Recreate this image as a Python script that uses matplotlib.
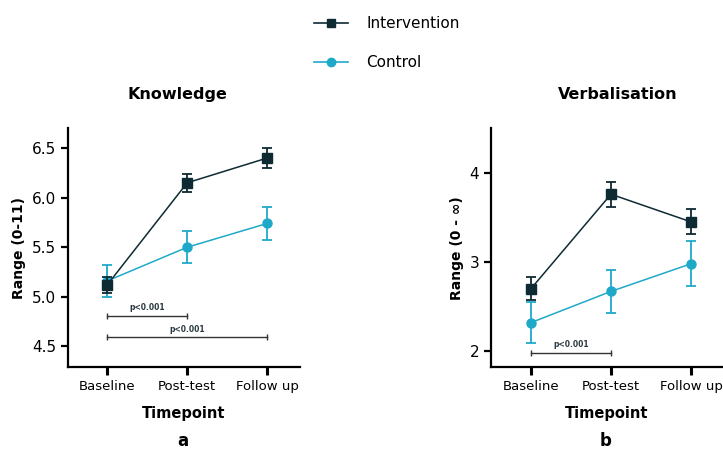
import matplotlib.pyplot as plt
from matplotlib.lines import Line2D

timepoints = ['Baseline', 'Post-test', 'Follow up']

know_int = [5.12, 6.15, 6.40]
know_int_err = [0.08, 0.09, 0.10]
know_ctl = [5.16, 5.50, 5.74]
know_ctl_err = [0.16, 0.16, 0.17]

verb_int = [2.70, 3.76, 3.45]
verb_int_err = [0.13, 0.14, 0.14]
verb_ctl = [2.32, 2.67, 2.98]
verb_ctl_err = [0.23, 0.24, 0.25]

dark = '#0e2a33'
cyan = '#1fa9c9'

fig = plt.figure(figsize=(7.23, 4.5), dpi=100)
ax1 = fig.add_axes([0.094, 0.184, 0.321, 0.531])
ax2 = fig.add_axes([0.679, 0.184, 0.321, 0.531])

x = range(len(timepoints))


def draw(ax, yi, ei, yc, ec):
    ax.errorbar(x, yc, yerr=ec, color=cyan, marker='o', ms=6.5, lw=1.1,
                capsize=3.5, elinewidth=1.3, capthick=1.3, zorder=3)
    ax.errorbar(x, yi, yerr=ei, color=dark, marker='s', ms=6.5, lw=1.1,
                capsize=3.5, elinewidth=1.3, capthick=1.3, zorder=4)
    ax.set_xticks(list(x))
    ax.set_xticklabels(timepoints, fontsize=9)
    for s in ['top', 'right']:
        ax.spines[s].set_visible(False)
    for s in ['left', 'bottom']:
        ax.spines[s].set_linewidth(1.6)
    ax.tick_params(axis='y', width=1.6, length=5, labelsize=11)
    ax.tick_params(axis='x', labelsize=9.5, width=2.2, length=6)
    ax.set_xlabel('Timepoint', fontsize=10.5, fontweight='bold', labelpad=9)


def bracket(ax, x0, x1, y, dy):
    ax.plot([x0, x1], [y, y], color='#333333', lw=1.0)
    ax.vlines([x0, x1], y - dy, y + dy, color='#333333', lw=1.0)
    ax.text((x0 + x1) / 2, y + dy * 1.2, 'p<0.001', ha='center', va='bottom',
            fontsize=5.5, fontweight='bold', color='#2a3a40')


draw(ax1, know_int, know_int_err, know_ctl, know_ctl_err)
ax1.set_xlim(-0.49, 2.41)
ax1.set_ylim(4.29, 6.70)
ax1.set_yticks([4.5, 5.0, 5.5, 6.0, 6.5])
ax1.set_yticklabels(['4.5', '5.0', '5.5', '6.0', '6.5'])
ax1.set_ylabel('Range (0-11)', fontsize=10, fontweight='bold')
ax1.set_title('Knowledge', fontsize=11.5, fontweight='bold', pad=21, x=0.47)
bracket(ax1, 0, 1, 4.81, 0.03)
bracket(ax1, 0, 2, 4.59, 0.03)

draw(ax2, verb_int, verb_int_err, verb_ctl, verb_ctl_err)
ax2.set_xlim(-0.5, 2.4)
ax2.set_ylim(1.82, 4.5)
ax2.set_yticks([2, 3, 4])
ax2.set_ylabel('Range (0 - ∞)', fontsize=10, fontweight='bold')
ax2.set_title('Verbalisation', fontsize=11.5, fontweight='bold', pad=21, x=0.545)
bracket(ax2, 0, 1, 1.98, 0.034)

fig.text(0.253, 0.02, 'a', fontsize=12, fontweight='bold', ha='center', va='center')
fig.text(0.837, 0.02, 'b', fontsize=12, fontweight='bold', ha='center', va='center')

handles = [Line2D([], [], color=dark, marker='s', ms=6, lw=1.2),
           Line2D([], [], color=cyan, marker='o', ms=6, lw=1.2)]
fig.legend(handles, ['Intervention', 'Control'], loc='upper center',
           bbox_to_anchor=(0.535, 0.995), frameon=False, fontsize=11,
           handlelength=2.2, handletextpad=1.2, labelspacing=1.6)

fig.savefig('out.png', dpi=100)
